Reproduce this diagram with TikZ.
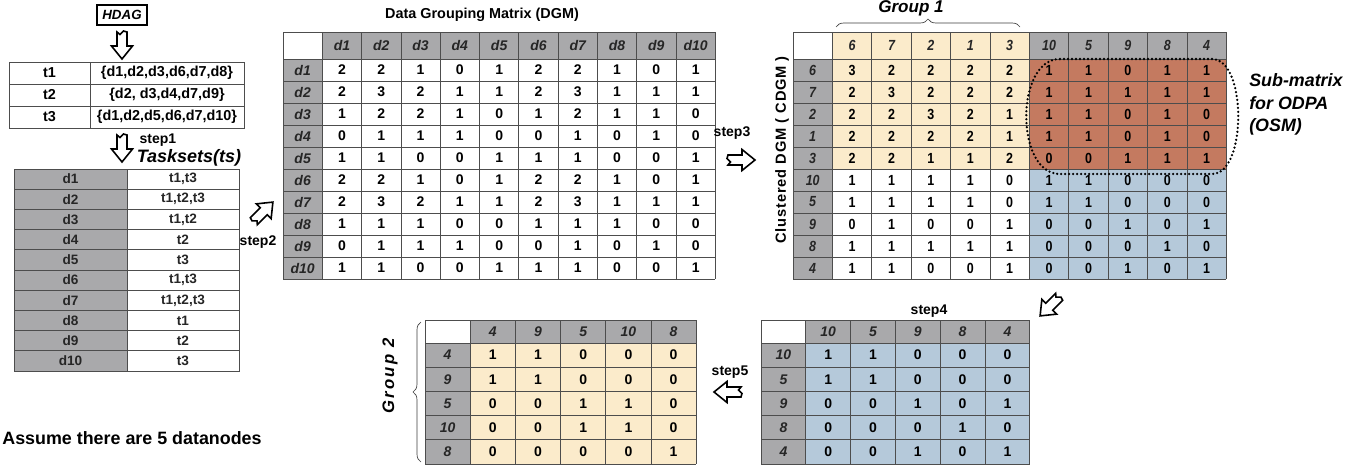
\documentclass[tikz,border=0pt]{standalone}
\usepackage{fontspec}
\setmainfont{Liberation Sans}
\newfontfamily\narrowsf[FakeStretch=0.85]{Liberation Sans}
\newfontfamily\spacedsf[LetterSpace=6]{Liberation Sans}
\newfontfamily\widesf[LetterSpace=13]{Liberation Sans}
\usetikzlibrary{decorations.pathreplacing}

\definecolor{hdrgrey}{HTML}{A9A9AB}
\definecolor{cellyellow}{HTML}{FBEBCB}
\definecolor{cellred}{HTML}{C47A60}
\definecolor{cellblue}{HTML}{B5C9DA}
\definecolor{gridline}{HTML}{4D4D4D}

\tikzset{
  gline/.style={draw=gridline, line width=0.55pt},
  cell/.style={inner sep=0pt, text=black, font=\bfseries\fontsize{10.5}{12}\selectfont},
  ncell/.style={inner sep=0pt, text=black, font=\narrowsf\bfseries\fontsize{11}{12}\selectfont},
  hcell/.style={inner sep=0pt, text=black!85, font=\bfseries\itshape\fontsize{10.5}{12}\selectfont},
  nhcell/.style={inner sep=0pt, text=black!85, font=\narrowsf\bfseries\itshape\fontsize{11}{12}\selectfont},
  steptxt/.style={inner sep=0pt, font=\bfseries\fontsize{10.5}{12}\selectfont},
  bigtxt/.style={inner sep=0pt, font=\bfseries\itshape\fontsize{12.8}{16.5}\selectfont},
  bracestyle/.style={draw=black!75, line width=0.5pt, decorate},
  arrowline/.style={draw=black, line width=1.2pt, fill=white, line join=miter},
  blockarrow/.pic={\path[arrowline] (-13,-5) -- (1,-5) -- (1,-10.5) -- (14,0) -- (1,10.5)
     -- (1,5) -- (-13,5) -- (-10.5,2) -- (-14,-1.5) -- cycle;},
}

\begin{document}
\begin{tikzpicture}[x=0.75pt,y=-0.75pt]
\useasboundingbox (0,0) rectangle (1368,468);
\fill[white] (0,0) rectangle (1368,468);

% ---------------- HDAG and task table
\draw[line width=1.1pt] (97,5) rectangle (147,25);
\node[inner sep=0pt, font=\bfseries\itshape\fontsize{10}{12}\selectfont] (hdag) at (122,15) {HDAG};
\coordinate (a0) at (122,45);
\pic[rotate=-90] at (a0) {blockarrow};

\draw[gline] (9,62) rectangle (244,128);
\draw[gline] (90,62) -- (90,128);
\draw[gline] (9,84) -- (244,84);
\draw[gline] (9,106) -- (244,106);
\foreach \t/\s [count=\r] in {t1/{\{d1,d2,d3,d6,d7,d8\}}, t2/{\{d2, d3,d4,d7,d9\}}, t3/{\{d1,d2,d5,d6,d7,d10\}}} {
  \node[cell, font=\bfseries\fontsize{10.8}{12}\selectfont] (task-\r) at (49.5,{62+(\r-0.5)*22}) {\t};
  \node[cell, font=\bfseries\fontsize{10.8}{12}\selectfont] (data-\r) at (167,{62+(\r-0.5)*22}) {\s};
}

% ---------------- step 1 and task sets
\coordinate (a1) at (122,148);
\pic[rotate=-90] at (a1) {blockarrow};
\node[steptxt] (step1) at (158,140) {step1};
\node[inner sep=0pt, font=\bfseries\itshape\fontsize{13.5}{16}\selectfont] (tasksets) at (189,158) {Tasksets(ts)};

\fill[hdrgrey] (14,169) rectangle (127,371);
\foreach \j in {1,...,9} \draw[gline] (14,{169+\j*20.2}) -- (239,{169+\j*20.2});
\draw[gline] (14,169) rectangle (239,371);
\draw[gline] (127,169) -- (127,371);
\foreach \e [count=\r] in {{t1,t3},{t1,t2,t3},{t1,t2},{t2},{t3},{t1,t3},{t1,t2,t3},{t1},{t2},{t3}} {
  \node[cell, font=\bfseries\fontsize{10.2}{12}\selectfont, text=black!85] (ts-d\r) at (70.5,{169+(\r-0.5)*20.2}) {d\r};
  \node[cell, font=\bfseries\fontsize{10.2}{12}\selectfont, text=black!85] (ts-t\r) at (183,{169+(\r-0.5)*20.2}) {\e};
}

\node[inner sep=0pt, font=\bfseries\fontsize{13.4}{16}\selectfont] (assume) at (132,438) {Assume there are 5 datanodes};

% ---------------- step 2 and the data grouping matrix
\coordinate (a2) at (263,212);
\pic[rotate=45] at (a2) {blockarrow};
\node[steptxt] (step2) at (258,242) {step2};

\node[inner sep=0pt, font=\bfseries\fontsize{10.8}{12}\selectfont] (dgmtitle) at (482,15) {Data Grouping Matrix (DGM)};
\fill[hdrgrey] (322.3,32) rectangle (715.3,59);
\fill[hdrgrey] (283,59) rectangle (322.3,279);
\foreach \i in {0,...,11} \draw[gline] ({283+\i*39.3},32) -- ({283+\i*39.3},279);
\draw[gline] (283,32) -- (715.3,32);
\foreach \j in {0,...,10} \draw[gline] (283,{59+\j*22}) -- (715.3,{59+\j*22});
\foreach \c in {1,...,10}
  \node[hcell] (dgm-h\c) at ({283+(\c+0.5)*39.3},45.5) {d\c};
\foreach \row [count=\r] in {
  {2,2,1,0,1,2,2,1,0,1},{2,3,2,1,1,2,3,1,1,1},{1,2,2,1,0,1,2,1,1,0},
  {0,1,1,1,0,0,1,0,1,0},{1,1,0,0,1,1,1,0,0,1},{2,2,1,0,1,2,2,1,0,1},
  {2,3,2,1,1,2,3,1,1,1},{1,1,1,0,0,1,1,1,0,0},{0,1,1,1,0,0,1,0,1,0},
  {1,1,0,0,1,1,1,0,0,1}} {
  \node[hcell] (dgm-r\r) at (302.65,{59+(\r-0.5)*22}) {d\r};
  \foreach \v [count=\c] in \row
    \node[cell] (dgm-\r-\c) at ({283+(\c+0.5)*39.3},{59+(\r-0.5)*22}) {\v};
}

% ---------------- step 3 and the clustered matrix
\node[steptxt] (step3) at (732,133) {step3};
\coordinate (a3) at (741,160);
\pic at (a3) {blockarrow};

\node[rotate=90, inner sep=0pt, font=\spacedsf\bfseries\fontsize{11}{12}\selectfont] (cdgmlabel) at (782,150) {Clustered DGM ( CDGM )};

\fill[cellyellow] (832.4,32) rectangle (1029.4,169);
\fill[hdrgrey] (1029.4,32) rectangle (1226.4,59);
\fill[hdrgrey] (793,59) rectangle (832.4,279);
\fill[cellred] (1029.4,59) rectangle (1226.4,169);
\fill[cellblue] (1029.4,169) rectangle (1226.4,279);
\foreach \i in {0,...,11} \draw[gline] ({793+\i*39.4},32) -- ({793+\i*39.4},279);
\draw[gline] (793,32) -- (1226.4,32);
\foreach \j in {0,...,10} \draw[gline] (793,{59+\j*22}) -- (1226.4,{59+\j*22});
\foreach \h [count=\c] in {6,7,2,1,3,10,5,9,8,4}
  \node[nhcell] (cdgm-h\c) at ({793+(\c+0.5)*39.4},45.5) {\h};
\foreach \lab/\row [count=\r] in {
  6/{3,2,2,2,2,1,1,0,1,1}, 7/{2,3,2,2,2,1,1,1,1,1}, 2/{2,2,3,2,1,1,1,0,1,0},
  1/{2,2,2,2,1,1,1,0,1,0}, 3/{2,2,1,1,2,0,0,1,1,1}, 10/{1,1,1,1,0,1,1,0,0,0},
  5/{1,1,1,1,0,1,1,0,0,0}, 9/{0,1,0,0,1,0,0,1,0,1}, 8/{1,1,1,1,1,0,0,0,1,0},
  4/{1,1,0,0,1,0,0,1,0,1}} {
  \node[nhcell] (cdgm-r\r) at (812.7,{59+(\r-0.5)*22}) {\lab};
  \foreach \v [count=\c] in \row
    \node[ncell] (cdgm-\r-\c) at ({793+(\c+0.5)*39.4},{59+(\r-0.5)*22}) {\v};
}

% group 1 brace and the outlined sub-matrix
\node[bigtxt, anchor=base] (group1) at (911,12) {Group 1};
\draw[bracestyle, decoration={brace, amplitude=6pt}] (836,27) -- (1020,27);
\draw[line width=1.9pt, dash pattern=on 0pt off 3pt, line cap=round]
  (1060,59) -- (1212,59) .. controls (1247,59) and (1247,174) .. (1212,174)
  -- (1060,174) .. controls (1015,174) and (1015,59) .. (1060,59);
\node[inner sep=0pt, anchor=west, align=left, font=\bfseries\itshape\fontsize{13.4}{16.9}\selectfont] (osm) at (1249,104.5) {Sub-matrix\\for ODPA\\(OSM)};

% ---------------- step 4: sub-matrix of the other data
\coordinate (a4) at (1050,306);
\pic[rotate=-135] at (a4) {blockarrow};
\node[steptxt] (step4) at (929,311) {step4};

\fill[hdrgrey] (805.8,320) rectangle (1029.8,343);
\fill[hdrgrey] (761,343) rectangle (805.8,464);
\fill[cellblue] (805.8,343) rectangle (1029.8,464);
\foreach \i in {0,...,6} \draw[gline] ({761+\i*44.8},320) -- ({761+\i*44.8},464);
\draw[gline] (761,320) -- (1029.8,320);
\foreach \j in {0,...,5} \draw[gline] (761,{343+\j*24.2}) -- (1029.8,{343+\j*24.2});
\foreach \h [count=\c] in {10,5,9,8,4}
  \node[hcell] (sub-h\c) at ({761+(\c+0.5)*44.8},331.5) {\h};
\foreach \lab/\row [count=\r] in {
  10/{1,1,0,0,0}, 5/{1,1,0,0,0}, 9/{0,0,1,0,1}, 8/{0,0,0,1,0}, 4/{0,0,1,0,1}} {
  \node[hcell] (sub-r\r) at (783.4,{343+(\r-0.5)*24.2}) {\lab};
  \foreach \v [count=\c] in \row
    \node[cell] (sub-\r-\c) at ({761+(\c+0.5)*44.8},{343+(\r-0.5)*24.2}) {\v};
}

% ---------------- step 5: regrouped matrix (group 2)
\node[steptxt] (step5) at (730,372) {step5};
\coordinate (a5) at (728,392);
\pic[rotate=180] at (a5) {blockarrow};

\fill[hdrgrey] (470.2,320) rectangle (696.2,343);
\fill[hdrgrey] (425,343) rectangle (470.2,464);
\fill[cellyellow] (470.2,343) rectangle (696.2,464);
\foreach \i in {0,...,6} \draw[gline] ({425+\i*45.2},320) -- ({425+\i*45.2},464);
\draw[gline] (425,320) -- (696.2,320);
\foreach \j in {0,...,5} \draw[gline] (425,{343+\j*24.2}) -- (696.2,{343+\j*24.2});
\foreach \h [count=\c] in {4,9,5,10,8}
  \node[hcell] (grp-h\c) at ({425+(\c+0.5)*45.2},331.5) {\h};
\foreach \lab/\row [count=\r] in {
  4/{1,1,0,0,0}, 9/{1,1,0,0,0}, 5/{0,0,1,1,0}, 10/{0,0,1,1,0}, 8/{0,0,0,0,1}} {
  \node[hcell] (grp-r\r) at (447.6,{343+(\r-0.5)*24.2}) {\lab};
  \foreach \v [count=\c] in \row
    \node[cell] (grp-\r-\c) at ({425+(\c+0.5)*45.2},{343+(\r-0.5)*24.2}) {\v};
}
\draw[bracestyle, decoration={brace, amplitude=6pt}] (421,462) -- (421,322);
\node[rotate=90, inner sep=0pt, font=\widesf\bfseries\itshape\fontsize{12.5}{14}\selectfont] (group2) at (390,376) {Group 2};

\end{tikzpicture}
\end{document}
